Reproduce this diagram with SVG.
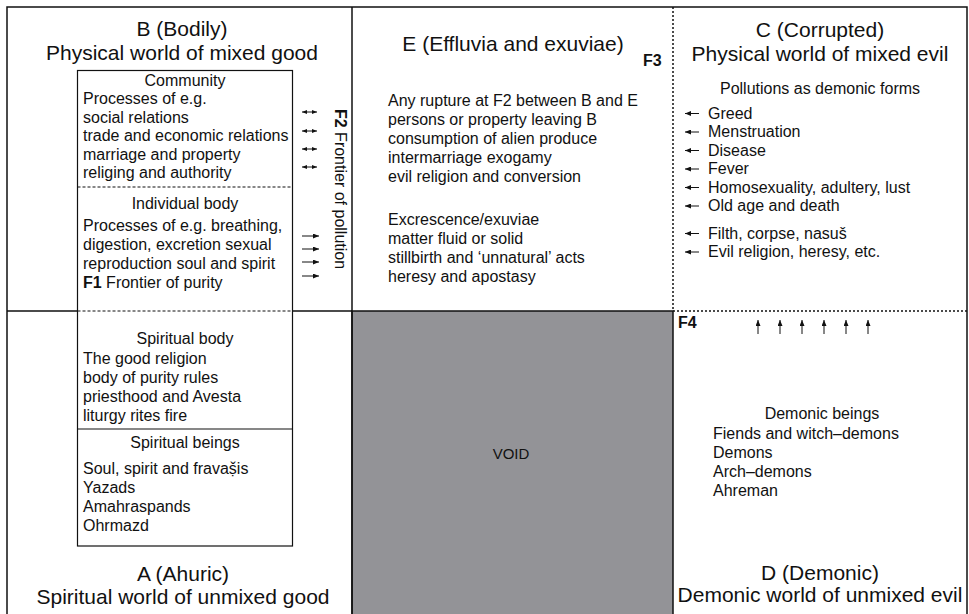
<svg xmlns="http://www.w3.org/2000/svg" width="969" height="614" viewBox="0 0 969 614">
<style>
text{font-family:"Liberation Sans",Arial,sans-serif;fill:#111;}
.t{font-size:21px;}
.b{font-size:16px;}
.c{text-anchor:middle;}
.bold{font-weight:bold;}
.ln{stroke:#111;stroke-width:1.5;fill:none;}
.thin{stroke:#111;stroke-width:1.2;fill:none;}
.dash{stroke:#111;stroke-width:1.2;fill:none;stroke-dasharray:3 2;}
.dot{stroke:#111;stroke-width:1.5;fill:none;stroke-dasharray:2 2;}
.arr{stroke:#111;stroke-width:1;fill:none;marker-end:url(#ah);}
.darr{stroke:#111;stroke-width:1;fill:none;marker-end:url(#ah2);marker-start:url(#ah2);}
</style>
<defs>
<marker id="ah" markerUnits="userSpaceOnUse" markerWidth="6" markerHeight="5" refX="6" refY="2.5" orient="auto-start-reverse">
<path d="M0,0 L6,2.5 L0,5 z" fill="#111"/>
</marker>
<marker id="ah2" markerUnits="userSpaceOnUse" markerWidth="5" markerHeight="4" refX="5" refY="2" orient="auto-start-reverse">
<path d="M0,0 L5,2 L0,4 z" fill="#111"/>
</marker>
</defs>
<rect width="969" height="614" fill="#fff"/>

<g id="void">
<rect x="352" y="311" width="321" height="310" fill="#939397" stroke="#111" stroke-width="1.5"/>
<text class="b c" x="511" y="459" style="font-size:15px">VOID</text>
</g>

<g id="frame">
<path class="ln" d="M7,621 V7 H967 V621"/>
<path class="ln" d="M352,7 V614"/>
<path class="dot" d="M673,7 V311"/>
<path class="ln" d="M7,311 H77 M292,311 H352"/>
<path class="dot" d="M673,311 H967"/>
</g>

<g id="regionB">
<text class="t c" x="182" y="36">B (Bodily)</text>
<text class="t c" x="182" y="60">Physical world of mixed good</text>
</g>

<g id="innerBox">
<rect class="thin" x="77.5" y="70.5" width="215" height="475.5"/>
<path class="dash" d="M77.5,187 H292.5"/>
<path class="dash" d="M77.5,311 H292.5"/>
<path class="thin" d="M77.5,429 H292.5"/>
<g id="community">
<text class="b c" x="185" y="86">Community</text>
<text class="b" x="83" y="104">Processes of e.g.</text>
<text class="b" x="83" y="122.5">social relations</text>
<text class="b" x="83" y="141">trade and economic relations</text>
<text class="b" x="83" y="159.5">marriage and property</text>
<text class="b" x="83" y="178">religing and authority</text>
</g>
<g id="individualBody">
<text class="b c" x="185" y="209">Individual body</text>
<text class="b" x="83" y="231">Processes of e.g. breathing,</text>
<text class="b" x="83" y="250">digestion, excretion sexual</text>
<text class="b" x="83" y="269">reproduction soul and spirit</text>
<text class="b" x="83" y="287.5"><tspan class="bold">F1</tspan> Frontier of purity</text>
</g>
<g id="spiritualBody">
<text class="b c" x="185" y="344">Spiritual body</text>
<text class="b" x="83" y="364">The good religion</text>
<text class="b" x="83" y="383">body of purity rules</text>
<text class="b" x="83" y="402">priesthood and Avesta</text>
<text class="b" x="83" y="421">liturgy rites fire</text>
</g>
<g id="spiritualBeings">
<text class="b c" x="185" y="448">Spiritual beings</text>
<text class="b" x="83" y="474">Soul, spirit and fravaṣ̌is</text>
<text class="b" x="83" y="493">Yazads</text>
<text class="b" x="83" y="512">Amahraspands</text>
<text class="b" x="83" y="531">Ohrmazd</text>
</g>
</g>

<g id="frontierF2">
<text class="b" transform="translate(335,109) rotate(90)"><tspan class="bold">F2</tspan> Frontier of pollution</text>
</g>

<g id="regionA">
<text class="t c" x="183" y="581">A (Ahuric)</text>
<text class="t c" x="183" y="604">Spiritual world of unmixed good</text>
</g>

<g id="regionE">
<text class="t c" x="513" y="51">E (Effluvia and exuviae)</text>
<text class="b bold" x="643" y="66">F3</text>
<text class="b" x="388" y="106">Any rupture at F2 between B and E</text>
<text class="b" x="388" y="125">persons or property leaving B</text>
<text class="b" x="388" y="144">consumption of alien produce</text>
<text class="b" x="388" y="163">intermarriage exogamy</text>
<text class="b" x="388" y="182">evil religion and conversion</text>
<text class="b" x="388" y="225">Excrescence/exuviae</text>
<text class="b" x="388" y="244">matter fluid or solid</text>
<text class="b" x="388" y="263">stillbirth and ‘unnatural’ acts</text>
<text class="b" x="388" y="282">heresy and apostasy</text>
</g>

<g id="regionC">
<text class="t c" x="820" y="37">C (Corrupted)</text>
<text class="t c" x="820" y="61">Physical world of mixed evil</text>
<text class="b c" x="820" y="94">Pollutions as demonic forms</text>
<text class="b" x="708" y="118.5">Greed</text>
<text class="b" x="708" y="137">Menstruation</text>
<text class="b" x="708" y="155.5">Disease</text>
<text class="b" x="708" y="174">Fever</text>
<text class="b" x="708" y="192.5">Homosexuality, adultery, lust</text>
<text class="b" x="708" y="211">Old age and death</text>
<text class="b" x="708" y="238.5">Filth, corpse, nasuš</text>
<text class="b" x="708" y="257">Evil religion, heresy, etc.</text>
</g>

<g id="regionD">
<text class="b bold" x="678" y="328">F4</text>
<text class="b c" x="822" y="419">Demonic beings</text>
<text class="b" x="713" y="439">Fiends and witch–demons</text>
<text class="b" x="713" y="458">Demons</text>
<text class="b" x="713" y="477">Arch–demons</text>
<text class="b" x="713" y="496">Ahreman</text>
<text class="t c" x="820" y="580">D (Demonic)</text>
<text class="t c" x="820" y="602">Demonic world of unmixed evil</text>
</g>

<g id="connectors">
<path class="darr" d="M302,112 H317"/>
<path class="darr" d="M302,131 H317"/>
<path class="darr" d="M302,149 H317"/>
<path class="darr" d="M302,167 H317"/>
<path class="arr" d="M302,236 H319"/>
<path class="arr" d="M302,249 H319"/>
<path class="arr" d="M302,262 H319"/>
<path class="arr" d="M302,276 H319"/>
<path class="arr" d="M699,113.5 H685"/>
<path class="arr" d="M699,132 H685"/>
<path class="arr" d="M699,150.5 H685"/>
<path class="arr" d="M699,169 H685"/>
<path class="arr" d="M699,187.5 H685"/>
<path class="arr" d="M699,206 H685"/>
<path class="arr" d="M699,233.5 H685"/>
<path class="arr" d="M699,252 H685"/>
<path class="arr" d="M758,334 V320"/>
<path class="arr" d="M780,334 V320"/>
<path class="arr" d="M802,334 V320"/>
<path class="arr" d="M824,334 V320"/>
<path class="arr" d="M846,334 V320"/>
<path class="arr" d="M868,334 V320"/>
</g>
</svg>
